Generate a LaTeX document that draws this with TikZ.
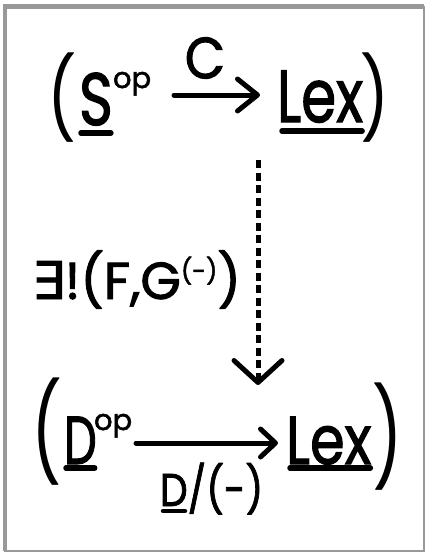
\documentclass[tikz,border=0pt]{standalone}
\usepackage{fontspec}
\setmainfont{Poppins}
\newfontfamily\hw{Poppins}[FakeBold=1.8]
\newfontfamily\symfont{DejaVu Sans}[FakeBold=1.8]
\usetikzlibrary{arrows.meta}
\begin{document}
\begin{tikzpicture}[x=1pt,y=-1pt,
  txt/.style={inner sep=0pt, outer sep=0pt, text=black},
  bigT/.style={txt, font=\hw\fontsize{74}{74}\selectfont},
  bigB/.style={txt, font=\hw\fontsize{68}{68}\selectfont},
  supT/.style={txt, font=\hw\fontsize{29}{29}\selectfont},
  parT/.style={txt, font=\fontsize{80}{80}\selectfont},
  parB/.style={txt, font=\fontsize{96}{96}\selectfont},
  lblC/.style={txt, font=\hw\fontsize{58}{58}\selectfont},
  lblE/.style={txt, font=\hw\fontsize{52}{52}\selectfont},
  lblD/.style={txt, font=\hw\fontsize{46}{46}\selectfont},
  ul/.style={line width=5.5pt, line cap=round},
  arr/.style={line width=5pt, line cap=round, -{Straight Barb[length=20pt,width=32pt,round]}},
  arrB/.style={line width=5pt, line cap=round, -{Straight Barb[length=15pt,width=28pt,round]}},
  darr/.style={line width=5pt, dash pattern=on 8pt off 4.5pt, -{Straight Barb[length=22pt,width=48pt,round]}},
  frame/.style={draw=black!40}
]
\useasboundingbox (0,0) rectangle (425,552);
\fill[white] (0,0) rectangle (425,552);
\draw[frame, line width=2.5pt] (5,7) rectangle (423.8,550.8);
\draw[frame, line width=4.5pt] (5,551) -- (5,6.5) -- (424,6.5);

% top row
\node[parT, xscale=0.8] (lp1) at (62,98) {(};
\node[bigT, anchor=base west, xscale=0.78] (S) at (79,125) {S};
\node[supT, anchor=base west] (Sop) at (113,88) {op};
\node[bigT, anchor=base west, xscale=0.76] (L1) at (277,122) {Lex};
\node[parT, xscale=0.8] (rp1) at (375,98) {)};
\draw[ul] ([shift={(2,8)}]S.base west) -- ([shift={(-2,8)}]S.base east);
\draw[ul] ([shift={(5,9)}]L1.base west) -- ([shift={(-1,9)}]L1.base east);
\coordinate (t1) at (174,95);
\coordinate (t2) at (260,95);
\draw[arr] (t1) -- (t2);
\node[lblC, xscale=0.9] (C) at (205,58) {C};

% vertical
\coordinate (v1) at (258,160);
\coordinate (v2) at (258,385);
\draw[darr] (v1) -- (v2);
\node[lblE, anchor=base west, xscale=1.0] (E) at (32,299) {{\symfont ∃}!(F,G\raisebox{19pt}{\fontsize{25}{25}\selectfont(-)})};

% bottom row
\node[parB, xscale=0.7] (lp2) at (47,432) {(};
\node[bigB, anchor=base west, xscale=0.68] (D) at (64,464) {D};
\node[supT, anchor=base west] (Dop) at (94,430) {op};
\node[bigB, anchor=base west, xscale=0.82] (L2) at (286,464) {Lex};
\node[parB, xscale=0.7] (rp2) at (388,437) {)};
\draw[ul] ([shift={(2,4)}]D.base west) -- ([shift={(-2,4)}]D.base east);
\draw[ul] ([shift={(4,4)}]L2.base west) -- ([shift={(-1,4)}]L2.base east);
\coordinate (b1) at (136,443);
\coordinate (b2) at (278,443);
\draw[arrB] (b1) -- (b2);
\node[lblD, anchor=base west, xscale=0.85] (Dl) at (160,506) {D/(-)};
\draw[ul, line width=4.5pt] (163,511) -- (185,511);
\end{tikzpicture}
\end{document}
